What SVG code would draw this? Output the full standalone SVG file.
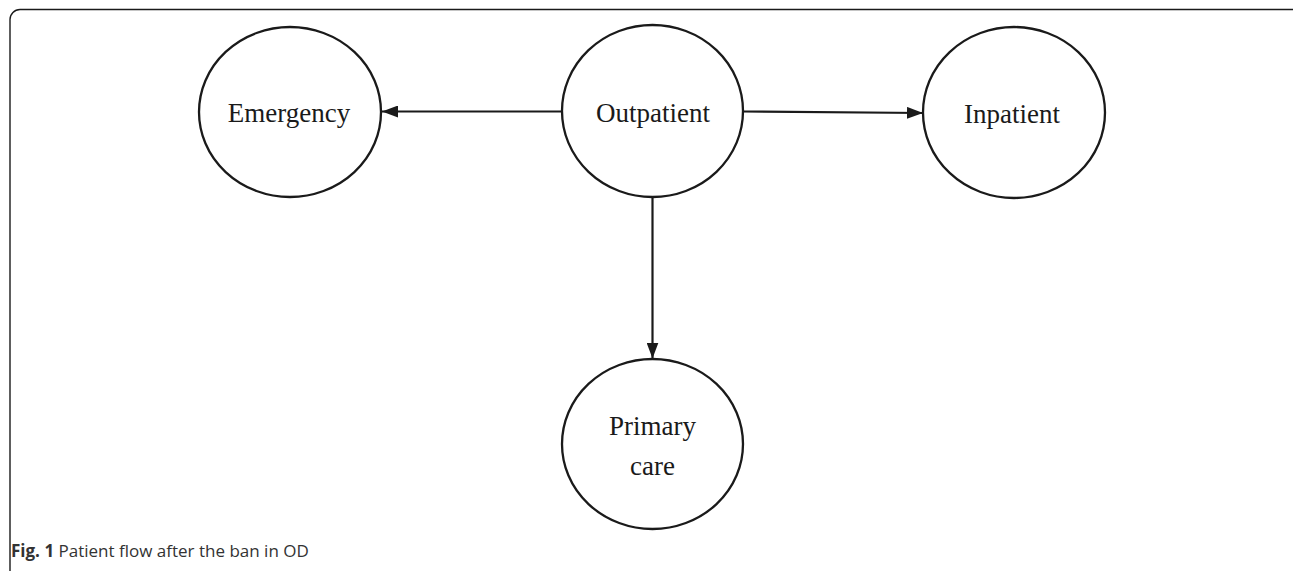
<svg xmlns="http://www.w3.org/2000/svg" width="1293" height="571" viewBox="0 0 1293 571">
<defs>
<style>
.node{fill:#fff;stroke:#1a1a1a;stroke-width:2.3}
.lbl{font-family:"Liberation Serif","Times New Roman",serif;font-size:27px;fill:#1a1a1a;text-anchor:middle}
.edge{stroke:#1a1a1a;stroke-width:2.2;fill:none}
.cap{font-family:"Open Sans","Noto Sans",sans-serif;font-size:17px;fill:#333}
</style>
<marker id="ah" viewBox="0 0 16 12" refX="16" refY="6" markerWidth="16" markerHeight="12" markerUnits="userSpaceOnUse" orient="auto">
<path d="M0,0 L16,6 L0,12 Z" fill="#1a1a1a"/>
</marker>
</defs>
<rect x="10" y="9.5" width="1300" height="600" rx="10" fill="none" stroke="#1a1a1a" stroke-width="1.4"/>
<g id="connectors">
<line class="edge" x1="562" y1="111.5" x2="382" y2="111.5" marker-end="url(#ah)"/>
<line class="edge" x1="743" y1="111.5" x2="923" y2="113" marker-end="url(#ah)"/>
<line class="edge" x1="652.5" y1="197" x2="652.5" y2="358.5" marker-end="url(#ah)"/>
</g>
<g id="emergency">
<ellipse class="node" cx="290" cy="112" rx="91" ry="85"/>
<text class="lbl" x="289" y="121.5">Emergency</text>
</g>
<g id="outpatient">
<ellipse class="node" cx="652.5" cy="111" rx="90.5" ry="86"/>
<text class="lbl" x="653" y="121.5">Outpatient</text>
</g>
<g id="inpatient">
<ellipse class="node" cx="1014" cy="112.5" rx="91" ry="85.5"/>
<text class="lbl" x="1012" y="123">Inpatient</text>
</g>
<g id="primary-care">
<ellipse class="node" cx="652.5" cy="444" rx="90.5" ry="85"/>
<text class="lbl" x="652.5" y="435">Primary</text>
<text class="lbl" x="652.5" y="475">care</text>
</g>
<text class="cap" x="11" y="557"><tspan font-weight="bold">Fig. 1</tspan> Patient flow after the ban in OD</text>
</svg>
